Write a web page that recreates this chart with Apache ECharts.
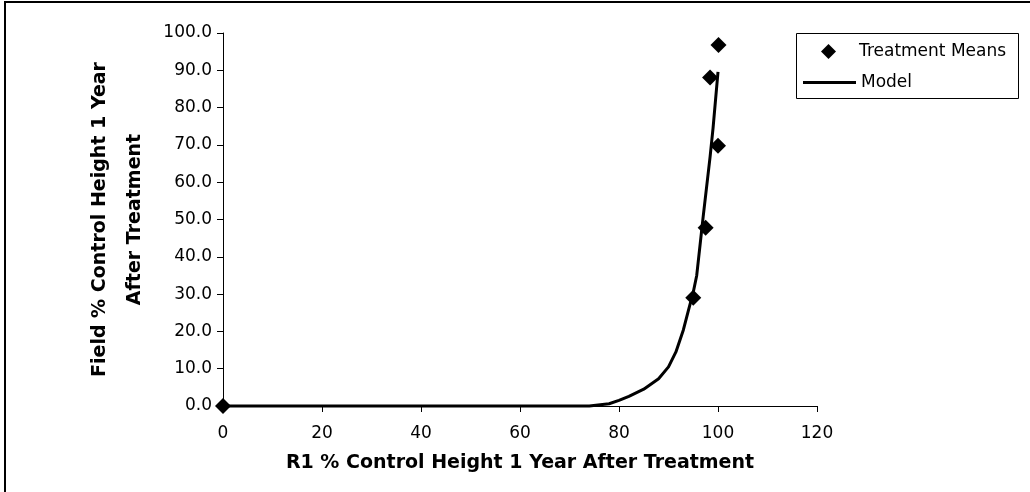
<!DOCTYPE html>
<html>
<head>
<meta charset="utf-8">
<script src="https://cdn.jsdelivr.net/npm/echarts@6/dist/echarts.min.js"></script>
<style>
html,body{margin:0;padding:0;background:#fff;}
#chart{width:1030px;height:492px;}
</style>
</head>
<body>
<div id="chart"></div>
<script>
// Data
var meansX = [0, 95.0, 97.5, 98.4, 100.0, 100.1];
var meansY = [0.0, 29.0, 47.8, 88.1, 69.8, 96.8];
var modelX = [0, 74, 78, 80, 82, 85, 88, 90, 91.5, 93, 94, 95, 95.7, 97, 98.4, 99, 100];
var modelY = [0, 0, 0.6, 1.5, 2.6, 4.5, 7.3, 10.5, 14.5, 20.4, 25.5, 30.5, 35.0, 50.7, 66.8, 74.5, 89.6];
var xTicks = [0, 20, 40, 60, 80, 100, 120];
var yTicks = [0, 10, 20, 30, 40, 50, 60, 70, 80, 90, 100];
var seriesNames = ['Treatment Means', 'Model'];
var xTitle = 'R1 % Control Height 1 Year After Treatment';
var yTitle = 'Field % Control Height 1 Year\nAfter Treatment';

var FONT = 'DejaVu Sans';
var chart = echarts.init(document.getElementById('chart'), null, {renderer: 'canvas'});

function pairs(xs, ys) { return xs.map(function (x, i) { return [x, ys[i]]; }); }

var option = {
  animation: false,
  backgroundColor: '#fff',
  grid: {left: 223, right: 213, top: 33, bottom: 86, containLabel: false},
  xAxis: {
    type: 'value',
    min: xTicks[0], max: xTicks[xTicks.length - 1], interval: xTicks[1] - xTicks[0],
    axisLine: {show: true, onZero: false, lineStyle: {color: '#000', width: 1}},
    axisTick: {show: true, inside: false, length: 6, lineStyle: {color: '#000'}},
    axisLabel: {color: '#000', fontFamily: FONT, fontSize: 17, margin: 19},
    splitLine: {show: false},
    name: xTitle,
    nameLocation: 'middle',
    nameGap: 48,
    nameTextStyle: {color: '#000', fontFamily: FONT, fontSize: 19, fontWeight: 'bold'}
  },
  yAxis: {
    type: 'value',
    min: yTicks[0], max: yTicks[yTicks.length - 1], interval: yTicks[1] - yTicks[0],
    axisLine: {show: true, onZero: false, lineStyle: {color: '#000', width: 1}},
    axisTick: {show: true, inside: false, length: 6, lineStyle: {color: '#000'}},
    axisLabel: {color: '#000', fontFamily: FONT, fontSize: 17, margin: 11,
      formatter: function (v) { return v.toFixed(1); }},
    splitLine: {show: false},
    name: yTitle,
    nameLocation: 'middle',
    nameRotate: 90,
    nameGap: 70,
    nameTextStyle: {color: '#000', fontFamily: FONT, fontSize: 19, fontWeight: 'bold', lineHeight: 35, align: 'center'}
  },
  legend: [
    {
      left: 821, top: 43, padding: 0, orient: 'vertical',
      itemWidth: 15, itemHeight: 15,
      data: [{name: seriesNames[0], icon: 'diamond', itemStyle: {color: '#000', opacity: 1}}],
      textStyle: {color: '#000', fontFamily: FONT, fontSize: 17, padding: [0, 0, 2, 18]}
    },
    {
      left: 803, top: 74, padding: 0, orient: 'vertical',
      itemWidth: 53, itemHeight: 3,
      data: [{name: seriesNames[1], icon: 'rect', itemStyle: {color: '#000'}}],
      textStyle: {color: '#000', fontFamily: FONT, fontSize: 17}
    }
  ],
  graphic: [
    {type: 'rect', shape: {x: 5, y: 2, width: 1100, height: 600}, style: {fill: 'none', stroke: '#000', lineWidth: 2}, silent: true, z: 100},
    {type: 'rect', shape: {x: 796.5, y: 33.5, width: 222, height: 65}, style: {fill: 'none', stroke: '#000', lineWidth: 1}, silent: true, z: 100}
  ],
  series: [
    {
      name: seriesNames[1],
      type: 'line',
      data: pairs(modelX, modelY),
      showSymbol: false,
      symbol: 'none',
      smooth: false,
      clip: false,
      lineStyle: {color: '#000', width: 3},
      itemStyle: {color: '#000'},
      z: 3
    },
    {
      name: seriesNames[0],
      type: 'scatter',
      data: pairs(meansX, meansY),
      symbol: 'diamond',
      symbolSize: 16,
      clip: false,
      itemStyle: {color: '#000', opacity: 1},
      z: 4
    }
  ]
};
chart.setOption(option);
</script>
</body>
</html>
